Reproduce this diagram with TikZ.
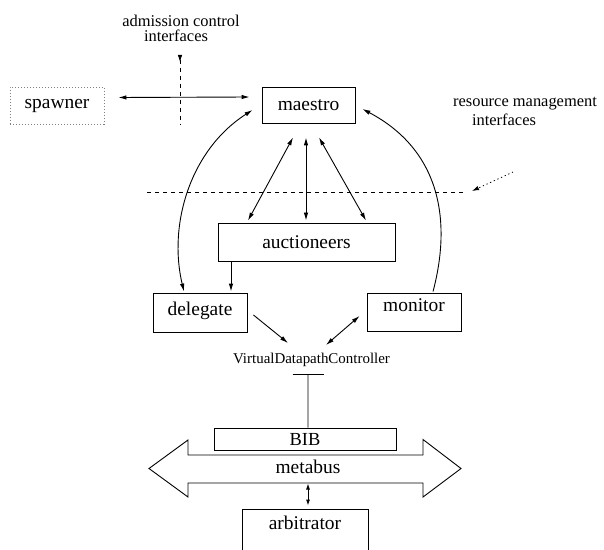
\documentclass[tikz,border=0pt]{standalone}
\usepackage{fontspec}
\setmainfont{Liberation Serif}
\usetikzlibrary{arrows.meta}
\begin{document}
\begin{tikzpicture}[x=1bp,y=-1bp,
  line width=0.9bp,
  tip/.style={-{Latex[length=8bp,width=4.5bp]}},
  tips/.style={{Latex[length=8bp,width=4.5bp]}-{Latex[length=8bp,width=4.5bp]}},
  box/.style={draw,rectangle,inner sep=0pt,font=\fontsize{19.5}{22}\selectfont},
  note/.style={inner sep=0pt,align=center,font=\fontsize{16.5}{15.5}\selectfont},
  iface/.style={dash pattern=on 4bp off 4bp,line width=0.8bp}]
\useasboundingbox (0,0) rectangle (604,550);
\clip (0,0) rectangle (604,550);

% components
\node[box,draw=gray,dash pattern=on 1.2bp off 1.8bp,minimum width=94bp,minimum height=37bp] (spawner) at (57,105.5) {spawner};
\node[box,minimum width=93bp,minimum height=36bp] (maestro) at (308.5,105) {maestro};
\node[box,minimum width=177bp,minimum height=38bp] (auct) at (306.5,242) {auctioneers};
\node[box,minimum width=94bp,minimum height=39bp,text depth=7bp] (delegate) at (200,312.5) {delegate};
\node[box,minimum width=94bp,minimum height=38bp,text depth=14bp] (monitor) at (414,312) {monitor};
\node[inner sep=0pt,font=\fontsize{15}{17}\selectfont] (vdc) at (311.5,360) {VirtualDatapathController};
\node[box,minimum width=182bp,minimum height=22bp,font=\fontsize{18.5}{20}\selectfont] (bib) at (305,439) {BIB};
\node[box,minimum width=126bp,minimum height=47bp,text depth=20bp] (arb) at (305,532.5) {arbitrator};

% the metabus
\draw (149,468.5) -- (188,440) -- (188,455) -- (423,455) -- (423,439.5) -- (461,468.5)
  -- (423,497) -- (423,483) -- (188,483) -- (188,497) -- cycle;
\node[inner sep=0pt,font=\fontsize{19.5}{22}\selectfont] (metabus) at (308,467) {metabus};
\coordinate (busBottom) at (308,483.5);

% interface boundaries
\node[note] (adm1) at (181,21) {admission control};
\node[note] (adm2) at (176,36) {interfaces};
\coordinate (acTop) at (180,55);
\coordinate (acBot) at (180,125);
\draw[iface,{Latex[reversed,length=7bp,width=4.5bp]}-] (acTop) -- (acBot);

\node[note] (rm1) at (525,104) {resource management};
\node[note] (rm2) at (504,119.5) {interfaces};
\coordinate (rmL) at (147,192);
\coordinate (rmR) at (467,192);
\draw[iface] (rmL) -- (rmR);
\coordinate (rmFrom) at (513,172);
\coordinate (rmTo) at (472,191);
\draw[dash pattern=on 1.2bp off 2.8bp,line width=0.8bp,-{Latex[length=7bp,width=4.5bp]}] (rmFrom) -- (rmTo);

% connectors
\draw[tips] ([shift={(14,-8)}]spawner.east) -- ([shift={(-12,-8)}]maestro.west);
\draw[tips] ([shift={(-15.5,14)}]maestro.south) -- ([shift={(-58.5,-2)}]auct.north);
\draw[tips] ([shift={(-2.5,14)}]maestro.south) -- ([shift={(-0.5,-2)}]auct.north);
\draw[tips] ([shift={(10.5,14)}]maestro.south) -- ([shift={(59.5,-2)}]auct.north);
\draw[tips] ([shift={(-16,-1)}]delegate.north) .. controls (168,225) and (190,150) .. ([shift={(-9,5)}]maestro.west);
\draw[tip] ([shift={(19,-1)}]monitor.north) .. controls (452,220) and (440,150) .. ([shift={(7,4)}]maestro.east);
\draw[tip] ([shift={(-75.5,0)}]auct.south) -- ([shift={(31,-1)}]delegate.north);
\draw[tip] ([shift={(6,2.5)}]delegate.east) -- ([shift={(-23.5,-17)}]vdc.center);
\draw[tips] ([shift={(-7,4)}]monitor.west) -- ([shift={(14.5,-15)}]vdc.center);
\draw[{Bar[width=31bp]}-] ([shift={(-3.5,14)}]vdc.center) -- ([xshift=3bp]bib.north);
\draw[{Latex[length=6bp,width=4bp]}-{Latex[length=6bp,width=4bp]}] (busBottom) -- ([shift={(3,-3)}]arb.north);
\end{tikzpicture}
\end{document}
